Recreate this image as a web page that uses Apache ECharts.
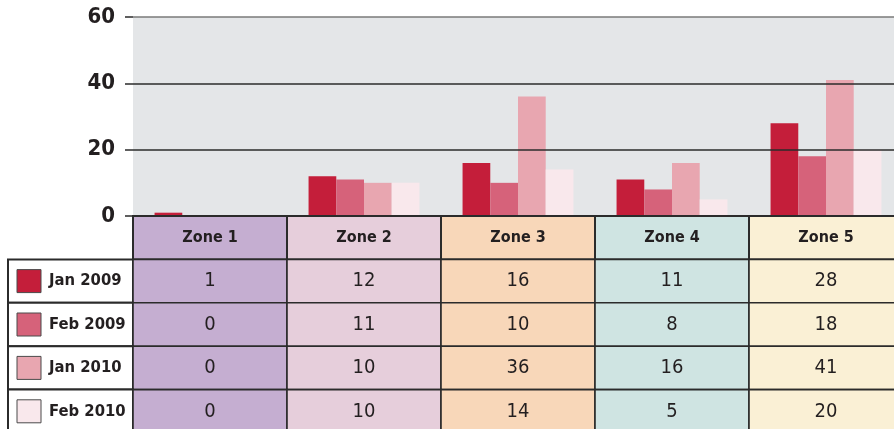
<!DOCTYPE html>
<html>
<head>
<meta charset="utf-8">
<script src="https://cdn.jsdelivr.net/npm/echarts@6/dist/echarts.min.js"></script>
<style>
  html, body { margin: 0; padding: 0; background: #fff; }
  #main { width: 894px; height: 429px; }
</style>
</head>
<body>
<div id="main"></div>
<script>
var zones = ['Zone 1', 'Zone 2', 'Zone 3', 'Zone 4', 'Zone 5'];
var seriesNames = ['Jan 2009', 'Feb 2009', 'Jan 2010', 'Feb 2010'];
var jan2009 = [1, 12, 16, 11, 28];
var feb2009 = [0, 11, 10, 8, 18];
var jan2010 = [0, 10, 36, 16, 41];
var feb2010 = [0, 10, 14, 5, 20];
var yTicks = [0, 20, 40, 60];

var barColors = ['#C41E3A', '#D6627A', '#E8A6B0', '#F9E8EC'];
var zoneColors = ['#C5AED1', '#E6CEDB', '#F8D7B9', '#CFE4E2', '#FAF0D5'];
var FONT = "'DejaVu Sans Condensed', 'Liberation Sans Narrow', 'DejaVu Sans', sans-serif";

var chart = echarts.init(document.getElementById('main'));

var values = [jan2009, feb2009, jan2010, feb2010];

// 表格单元: 第 0 行是表头, 1-4 行是各期数值
var rowKeys = ['header'].concat(seriesNames);
var cells = [];
for (var r = 0; r < rowKeys.length; r++) {
    if (r > 0) cells.push({col: 0, row: r, legend: true, text: seriesNames[r - 1], color: barColors[r - 1]});
    for (var c = 0; c < zones.length; c++) {
        cells.push({
            col: c, row: r, legend: false,
            text: r === 0 ? zones[c] : String(values[r - 1][c]),
            color: zoneColors[c]
        });
    }
}

var LEGEND_W = 125;

function renderCell(params, api) {
    var cell = cells[params.dataIndex];
    var p = api.coord([cell.col, cell.row]);
    var s = api.size([1, 1]);
    var x = p[0] - s[0] / 2, y = p[1] - s[1] / 2, w = s[0], h = s[1];
    if (cell.legend) {
        x = x - LEGEND_W;
        w = LEGEND_W;
        return {
            type: 'group',
            children: [
                {type: 'rect', shape: {x: x, y: y, width: w, height: h},
                 style: {fill: '#fff', stroke: '#2b2b2b', lineWidth: 2}},
                {type: 'rect', shape: {x: x + 9, y: y + h / 2 - 11.5, width: 24, height: 23},
                 style: {fill: cell.color, stroke: '#4a4a4a', lineWidth: 1}},
                {type: 'text', style: {x: x + 41, y: y + h / 2, text: cell.text,
                    align: 'left', verticalAlign: 'middle', fill: '#231F20',
                    fontFamily: FONT, fontWeight: 'bold', fontSize: 16.5}}
            ]
        };
    }
    var header = cell.row === 0;
    return {
        type: 'group',
        children: [
            {type: 'rect', shape: {x: x, y: y, width: w, height: h},
             style: {fill: cell.color, stroke: '#2b2b2b', lineWidth: header ? 2 : 1.6}},
            {type: 'text', style: {x: x + w / 2, y: y + h / 2, text: cell.text,
                align: 'center', verticalAlign: 'middle', fill: '#231F20',
                fontFamily: FONT, fontWeight: header ? 'bold' : 'normal',
                fontSize: header ? 16 : 20}}
        ]
    };
}

var barSeries = seriesNames.map(function (name, i) {
    return {
        name: name,
        type: 'bar',
        xAxisIndex: 0,
        yAxisIndex: 0,
        barGap: 0,
        barCategoryGap: '28%',
        itemStyle: {color: barColors[i]},
        data: values[i]
    };
});

var option = {
    animation: false,
    grid: [
        {left: 133, right: -9, top: 17, height: 199, show: true, outerBoundsMode: 'none',
         backgroundColor: '#E4E6E8', borderWidth: 0},
        {left: 133, right: -9, top: 216, height: 217, outerBoundsMode: 'none'}
    ],
    xAxis: [
        {type: 'category', gridIndex: 0, data: zones,
         axisLine: {show: false}, axisTick: {show: false}, axisLabel: {show: false}},
        {type: 'category', gridIndex: 1, data: zones, show: false}
    ],
    yAxis: [
        {type: 'value', gridIndex: 0, min: yTicks[0], max: yTicks[yTicks.length - 1], interval: 20,
         z: 5,
         axisLine: {show: false},
         axisTick: {show: true, length: 8, lineStyle: {color: '#2b2b2b', width: 1.5}},
         axisLabel: {margin: 18, color: '#231F20', fontFamily: FONT, fontWeight: 'bold', fontSize: 22},
         splitLine: {show: true, lineStyle: {color: ['#2b2b2b', '#2b2b2b', '#2b2b2b', '#7a7a7a'], width: 1.5}}},
        {type: 'category', gridIndex: 1, data: rowKeys, inverse: true, show: false}
    ],
    series: barSeries.concat([{
        type: 'custom',
        xAxisIndex: 1,
        yAxisIndex: 1,
        clip: false,
        z: 6,
        renderItem: renderCell,
        data: cells.map(function (d) { return [d.col, d.row]; })
    }])
};

chart.setOption(option);
</script>
</body>
</html>
